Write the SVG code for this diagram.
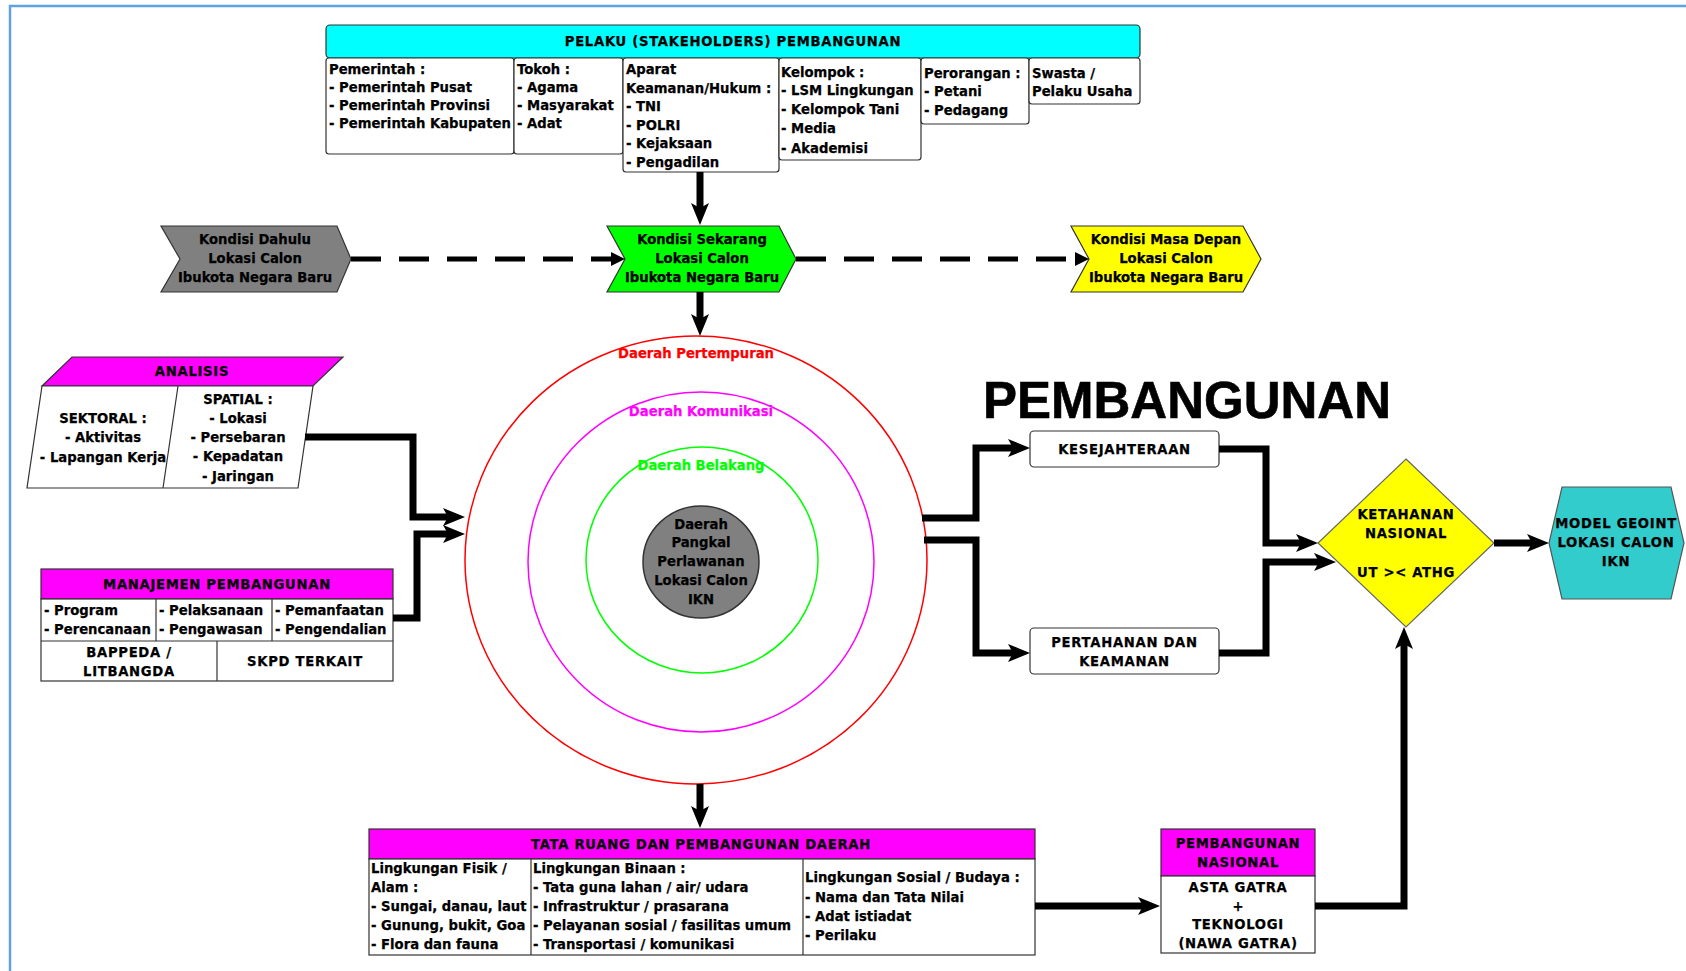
<svg xmlns="http://www.w3.org/2000/svg" width="1686" height="971" viewBox="0 0 1686 971">
<defs>
<style>
.t{font-family:"DejaVu Sans",Verdana,sans-serif;font-weight:bold;font-size:13.2px;fill:#000;stroke:#000;stroke-width:0.25}
.c{text-anchor:middle}
.u{letter-spacing:0.7px}
.box{fill:#fff;stroke:#333;stroke-width:1.2}
.mag{fill:#ff00ff;stroke:#333;stroke-width:1.2}
.ln{fill:none;stroke:#333;stroke-width:1.2}
.con{fill:none;stroke:#000;stroke-width:7}
.dash{fill:none;stroke:#000;stroke-width:5;stroke-dasharray:30 18}
.big{font-family:"Liberation Sans",Arial,sans-serif;font-weight:bold;font-size:51px;fill:#000;stroke:#000;stroke-width:0.6}
</style>
<marker id="ah" viewBox="0 0 22 18" refX="8" refY="9" markerWidth="22" markerHeight="18" markerUnits="userSpaceOnUse" orient="auto">
<path d="M0,0 L22,9 L0,18 L5,9 z" fill="#000"/>
</marker>
<marker id="ahs" viewBox="0 0 14 14" refX="0" refY="7" markerWidth="14" markerHeight="14" markerUnits="userSpaceOnUse" orient="auto">
<path d="M0,0 L14,7 L0,14 z" fill="#000"/>
</marker>
</defs>
<rect x="0" y="0" width="1686" height="971" fill="#fff"/>
<path d="M10,971 V6 H1686" fill="none" stroke="#5ea2e0" stroke-width="2.5"/>

<g id="pelaku">
<rect x="326" y="25" width="814" height="33" rx="4" fill="#00ffff" stroke="#333" stroke-width="1.2"/>
<text class="t c u" x="733" y="46">PELAKU (STAKEHOLDERS) PEMBANGUNAN</text>
</g>
<g id="pemerintah">
<rect class="box" x="326" y="58" width="188" height="96" rx="3"/>
<text class="t" x="329" y="74">Pemerintah :</text>
<text class="t" x="329" y="92">- Pemerintah Pusat</text>
<text class="t" x="329" y="110">- Pemerintah Provinsi</text>
<text class="t" x="329" y="128">- Pemerintah Kabupaten</text>
</g>
<g id="tokoh">
<rect class="box" x="514" y="58" width="109" height="96" rx="3"/>
<text class="t" x="517" y="74">Tokoh :</text>
<text class="t" x="517" y="92">- Agama</text>
<text class="t" x="517" y="110">- Masyarakat</text>
<text class="t" x="517" y="128">- Adat</text>
</g>
<g id="aparat">
<rect class="box" x="623" y="58" width="156" height="114" rx="3"/>
<text class="t" x="626" y="74">Aparat</text>
<text class="t" x="626" y="92.5">Keamanan/Hukum :</text>
<text class="t" x="626" y="111">- TNI</text>
<text class="t" x="626" y="129.5">- POLRI</text>
<text class="t" x="626" y="148">- Kejaksaan</text>
<text class="t" x="626" y="166.5">- Pengadilan</text>
</g>
<g id="kelompok">
<rect class="box" x="779" y="58" width="142" height="102" rx="3"/>
<text class="t" x="781" y="76.5">Kelompok :</text>
<text class="t" x="781" y="95">- LSM Lingkungan</text>
<text class="t" x="781" y="114">- Kelompok Tani</text>
<text class="t" x="781" y="133">- Media</text>
<text class="t" x="781" y="152.5">- Akademisi</text>
</g>
<g id="perorangan">
<rect class="box" x="921" y="58" width="108" height="66" rx="3"/>
<text class="t" x="924" y="78">Perorangan :</text>
<text class="t" x="924" y="96">- Petani</text>
<text class="t" x="924" y="115">- Pedagang</text>
</g>
<g id="swasta">
<rect class="box" x="1029" y="58" width="111" height="46" rx="3"/>
<text class="t" x="1032" y="78">Swasta /</text>
<text class="t" x="1032" y="96">Pelaku Usaha</text>
</g>

<g id="kondisi-dahulu">
<polygon points="161,226 337,226 351,259 337,292 161,292 180,259" fill="#808080" stroke="#333" stroke-width="1.2"/>
<text class="t c" x="255" y="244">Kondisi Dahulu</text>
<text class="t c" x="255" y="263">Lokasi Calon</text>
<text class="t c" x="255" y="282">Ibukota Negara Baru</text>
</g>
<g id="kondisi-sekarang">
<polygon points="607,226 779,226 796,259 779,292 607,292 625,259" fill="#00ff00" stroke="#333" stroke-width="1.2"/>
<text class="t c" x="702" y="244">Kondisi Sekarang</text>
<text class="t c" x="702" y="263">Lokasi Calon</text>
<text class="t c" x="702" y="282">Ibukota Negara Baru</text>
</g>
<g id="kondisi-masa-depan">
<polygon points="1071,226 1243,226 1261,259 1243,292 1071,292 1089,259" fill="#ffff00" stroke="#333" stroke-width="1.2"/>
<text class="t c" x="1166" y="244">Kondisi Masa Depan</text>
<text class="t c" x="1166" y="263">Lokasi Calon</text>
<text class="t c" x="1166" y="282">Ibukota Negara Baru</text>
</g>

<g id="daerah">
<ellipse cx="696" cy="560" rx="231" ry="224" fill="#fff" stroke="#ff0000" stroke-width="1.5"/>
<ellipse cx="701" cy="562" rx="173" ry="170" fill="none" stroke="#ff00ff" stroke-width="1.5"/>
<ellipse cx="702" cy="560" rx="116" ry="113" fill="none" stroke="#00ff00" stroke-width="1.5"/>
<ellipse cx="701" cy="562" rx="58" ry="56" fill="#808080" stroke="#333" stroke-width="1.5"/>
<text class="t c" x="696" y="358" style="fill:#ff0000;stroke:#ff0000">Daerah Pertempuran</text>
<text class="t c" x="701" y="416" style="fill:#ff00ff;stroke:#ff00ff">Daerah Komunikasi</text>
<text class="t c" x="701" y="470" style="fill:#00ff00;stroke:#00ff00">Daerah Belakang</text>
<text class="t c" x="701" y="529">Daerah</text>
<text class="t c" x="701" y="547">Pangkal</text>
<text class="t c" x="701" y="566">Perlawanan</text>
<text class="t c" x="701" y="585">Lokasi Calon</text>
<text class="t c" x="701" y="604">IKN</text>
</g>

<g id="analisis">
<polygon class="mag" points="72,357 343,357 313,386 42,386"/>
<polygon class="box" points="42,386 313,386 298,488 27,488"/>
<line class="ln" x1="178" y1="386" x2="163" y2="488"/>
<text class="t c u" x="192" y="376">ANALISIS</text>
<text class="t c" x="103" y="423">SEKTORAL :</text>
<text class="t c" x="103" y="442">- Aktivitas</text>
<text class="t c" x="103" y="462">- Lapangan Kerja</text>
<text class="t c" x="238" y="404">SPATIAL :</text>
<text class="t c" x="238" y="423">- Lokasi</text>
<text class="t c" x="238" y="442">- Persebaran</text>
<text class="t c" x="238" y="461">- Kepadatan</text>
<text class="t c" x="238" y="481">- Jaringan</text>
</g>

<g id="manajemen">
<rect class="mag" x="41" y="569" width="352" height="30"/>
<rect class="box" x="41" y="599" width="352" height="82"/>
<line class="ln" x1="41" y1="641" x2="393" y2="641"/>
<line class="ln" x1="156" y1="599" x2="156" y2="641"/>
<line class="ln" x1="272" y1="599" x2="272" y2="641"/>
<line class="ln" x1="217" y1="641" x2="217" y2="681"/>
<text class="t c u" x="217" y="589">MANAJEMEN PEMBANGUNAN</text>
<text class="t" x="44" y="615">- Program</text>
<text class="t" x="44" y="634">- Perencanaan</text>
<text class="t" x="159" y="615">- Pelaksanaan</text>
<text class="t" x="159" y="634">- Pengawasan</text>
<text class="t" x="275" y="615">- Pemanfaatan</text>
<text class="t" x="275" y="634">- Pengendalian</text>
<text class="t c u" x="129" y="656.5">BAPPEDA /</text>
<text class="t c u" x="129" y="675.5">LITBANGDA</text>
<text class="t c u" x="305" y="665.5">SKPD TERKAIT</text>
</g>

<g id="pembangunan-title">
<text class="big" x="983" y="418">PEMBANGUNAN</text>
</g>
<g id="kesejahteraan">
<rect class="box" x="1030" y="431" width="189" height="36" rx="4"/>
<text class="t c u" x="1124.5" y="454">KESEJAHTERAAN</text>
</g>
<g id="pertahanan">
<rect class="box" x="1030" y="628" width="189" height="46" rx="4"/>
<text class="t c u" x="1124.5" y="646.5">PERTAHANAN DAN</text>
<text class="t c u" x="1124.5" y="665.5">KEAMANAN</text>
</g>
<g id="ketahanan">
<polygon points="1406,459 1494,543 1406,627 1318,543" fill="#ffff00" stroke="#666" stroke-width="1.2"/>
<text class="t c u" x="1406" y="519">KETAHANAN</text>
<text class="t c u" x="1406" y="538">NASIONAL</text>
<text class="t c u" x="1406" y="576.5">UT &gt;&lt; ATHG</text>
</g>
<g id="model-geoint">
<polygon points="1562,487 1671,487 1684,543 1671,599 1562,599 1549,543" fill="#33cccc" stroke="#555" stroke-width="1.2"/>
<text class="t c u" x="1616" y="528">MODEL GEOINT</text>
<text class="t c u" x="1616" y="547">LOKASI CALON</text>
<text class="t c u" x="1616" y="566">IKN</text>
</g>

<g id="tata-ruang">
<rect class="mag" x="369" y="829" width="666" height="30"/>
<rect class="box" x="369" y="859" width="666" height="96"/>
<line class="ln" x1="531" y1="859" x2="531" y2="955"/>
<line class="ln" x1="803" y1="859" x2="803" y2="955"/>
<text class="t c u" x="701" y="849">TATA RUANG DAN PEMBANGUNAN DAERAH</text>
<text class="t" x="371" y="872.5">Lingkungan Fisik /</text>
<text class="t" x="371" y="891.5">Alam :</text>
<text class="t" x="371" y="910.5">- Sungai, danau, laut</text>
<text class="t" x="371" y="929.5">- Gunung, bukit, Goa</text>
<text class="t" x="371" y="948.5">- Flora dan fauna</text>
<text class="t" x="533" y="872.5">Lingkungan Binaan :</text>
<text class="t" x="533" y="891.5">- Tata guna lahan / air/ udara</text>
<text class="t" x="533" y="910.5">- Infrastruktur / prasarana</text>
<text class="t" x="533" y="929.5">- Pelayanan sosial / fasilitas umum</text>
<text class="t" x="533" y="948.5">- Transportasi / komunikasi</text>
<text class="t" x="805" y="881.5">Lingkungan Sosial / Budaya :</text>
<text class="t" x="805" y="901.5">- Nama dan Tata Nilai</text>
<text class="t" x="805" y="921">- Adat istiadat</text>
<text class="t" x="805" y="940">- Perilaku</text>
</g>

<g id="pembangunan-nasional">
<rect class="mag" x="1161" y="829" width="154" height="47"/>
<rect class="box" x="1161" y="876" width="154" height="77"/>
<text class="t c u" x="1238" y="848">PEMBANGUNAN</text>
<text class="t c u" x="1238" y="866.5">NASIONAL</text>
<text class="t c u" x="1238" y="891.5">ASTA GATRA</text>
<text class="t c" x="1238" y="911">+</text>
<text class="t c u" x="1238" y="929">TEKNOLOGI</text>
<text class="t c u" x="1238" y="948">(NAWA GATRA)</text>
</g>

<g id="connectors">
<path class="dash" d="M351,259 H611" marker-end="url(#ahs)"/>
<path class="dash" d="M796,259 H1075" marker-end="url(#ahs)"/>
<path class="con" d="M700,172 V211" marker-end="url(#ah)"/>
<path class="con" d="M700,292 V322" marker-end="url(#ah)"/>
<path class="con" d="M700,784 V814" marker-end="url(#ah)"/>
<path class="con" d="M305,437 H413 V517 H451" marker-end="url(#ah)"/>
<path class="con" d="M393,618 H417 V534 H451" marker-end="url(#ah)"/>
<path class="con" d="M922,518 H976 V448 H1016" marker-end="url(#ah)"/>
<path class="con" d="M924,540 H976 V653 H1016" marker-end="url(#ah)"/>
<path class="con" d="M1219,449 H1266 V543 H1304" marker-end="url(#ah)"/>
<path class="con" d="M1219,653 H1266 V562 H1322" marker-end="url(#ah)"/>
<path class="con" d="M1494,543 H1535" marker-end="url(#ah)"/>
<path class="con" d="M1035,906 H1146" marker-end="url(#ah)"/>
<path class="con" d="M1315,906 H1404 V641" marker-end="url(#ah)"/>
</g>
</svg>
